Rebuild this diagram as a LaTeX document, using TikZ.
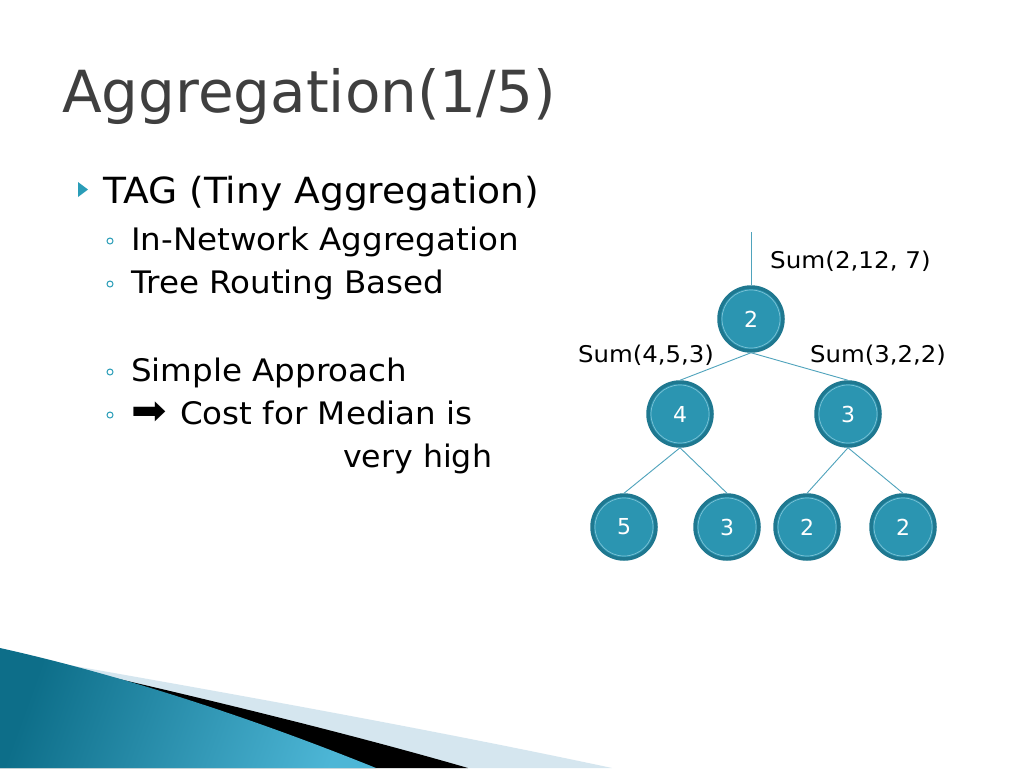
\documentclass[tikz,border=0pt]{standalone}
\usepackage{fontspec}
\setmainfont{DejaVu Sans}
\definecolor{nodefill}{HTML}{2B95B1}
\definecolor{nodeedge}{HTML}{1F7890}
\definecolor{nodering}{HTML}{7CC3D6}
\definecolor{connblue}{HTML}{4FA3BC}
\definecolor{titlegray}{HTML}{3F3F3F}
\definecolor{lightband}{HTML}{D5E6EF}
\definecolor{tealdark}{HTML}{0D6E89}
\definecolor{teallight}{HTML}{4DB6D6}
\definecolor{bullteal}{HTML}{2A9DB8}
\newcommand{\hs}[2]{\scalebox{#1}[1]{#2}}
\tikzset{
  tnode/.style={circle, minimum size=64pt, inner sep=0pt, fill=nodefill, draw=nodeedge,
    line width=3.5pt, text=white, font=\fontsize{22}{26}\selectfont,
    path picture={\draw[nodering, line width=0.7pt] (path picture bounding box.center) circle (29pt);}},
  conn/.style={draw=connblue, line width=0.9pt},
  lbl/.style={anchor=base west, inner sep=0pt, font=\fontsize{23}{27}\selectfont},
  body/.style={anchor=base west, inner sep=0pt, font=\fontsize{36}{42}\selectfont},
  sub/.style={anchor=base west, inner sep=0pt, font=\fontsize{31}{36}\selectfont},
}
\begin{document}
\begin{tikzpicture}[x=1pt, y=-1pt]
\useasboundingbox (0,0) rectangle (1024,768);
\fill[white] (0,0) rectangle (1024,768);
% bottom decoration
\fill[lightband] (40,660) .. controls (200,688) and (420,727) .. (612,768) -- (0,768) -- cycle;
\fill[black] (40,661) .. controls (160,688) and (330,728) .. (468,768) -- (0,768) -- cycle;
\shade[left color=tealdark, right color=teallight, shading angle=70]
  (0,648) .. controls (90,668) and (220,705) .. (376,768) -- (0,768) -- cycle;
% title
\node[anchor=base west, inner sep=0pt, text=titlegray, font=\fontsize{58}{66}\selectfont] (title) at (62,112) {Aggregation(1/5)};
% bullets
\fill[bullteal] (78,182) -- (88,189.5) -- (78,197) -- cycle;
\node[body] (b1) at (103,203) {\hs{1.045}{TAG (Tiny Aggregation)}};
\draw[bullteal, line width=1pt] (110,241) circle (3pt);
\node[sub] (s1) at (131,250) {\hs{1.05}{In‐Network Aggregation}};
\draw[bullteal, line width=1pt] (110,284) circle (3pt);
\node[sub] (s2) at (131,293) {\hs{1.05}{Tree Routing Based}};
\draw[bullteal, line width=1pt] (110,372) circle (3pt);
\node[sub] (s3) at (131,381) {\hs{1.05}{Simple Approach}};
\draw[bullteal, line width=1pt] (110,415) circle (3pt);
\node[sub] (s4) at (131,424) {\hs{1.05}{\scalebox{1.3}{➡}\hspace{3pt} Cost for Median is}};
\node[sub] (s5) at (343,467) {\hs{1.02}{very high}};
% tree
\node[tnode] (r) at (751,319) {2};
\node[tnode] (a) at (680,414) {4};
\node[tnode] (b) at (848,414) {3};
\node[tnode] (a1) at (624,527) {5};
\node[tnode] (a2) at (727,527) {3};
\node[tnode] (b1n) at (807,527) {2};
\node[tnode] (b2n) at (903,527) {2};
\coordinate (top) at (751,232);
\draw[conn] (top) -- (r.north);
\draw[conn] (r.south) -- (a.north);
\draw[conn] (r.south) -- (b.north);
\draw[conn] (a.south) -- (a1.north);
\draw[conn] (a.south) -- (a2.north);
\draw[conn] (b.south) -- (b1n.north);
\draw[conn] (b.south) -- (b2n.north);
% labels
\node[lbl] (l1) at (770,268) {\hs{1.07}{Sum(2,12, 7)}};
\node[lbl] (l2) at (578,362) {\hs{1.06}{Sum(4,5,3)}};
\node[lbl] (l3) at (810,362) {\hs{1.06}{Sum(3,2,2)}};
\end{tikzpicture}
\end{document}
